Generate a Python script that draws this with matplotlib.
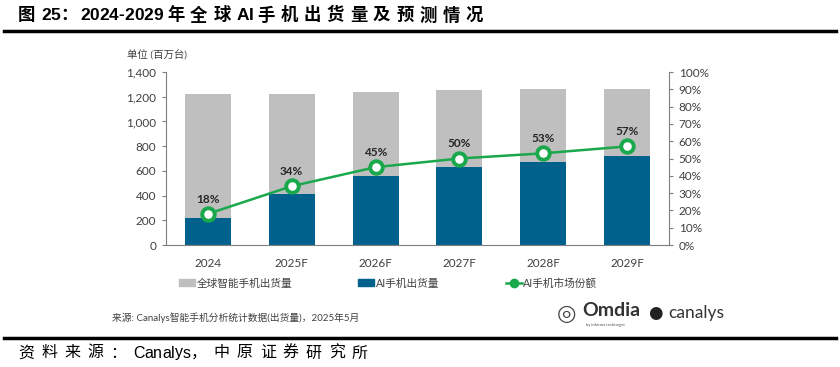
import numpy as np
import matplotlib.pyplot as plt
from matplotlib.patches import Patch
from matplotlib.lines import Line2D

plt.rcParams['font.family'] = ['Lato', 'Noto Sans CJK SC', 'DejaVu Sans']

years = ['2024', '2025F', '2026F', '2027F', '2028F', '2029F']
total_ship = [1220, 1220, 1238, 1255, 1265, 1265]
ai_ship = [220, 415, 557, 628, 670, 721]
ai_share = [0.18, 0.34, 0.45, 0.50, 0.53, 0.57]

gray = '#BFBFBF'
blue = '#00628C'
green = '#1AA84C'
axis_c = '#7F7F7F'
txt_c = '#404040'

W, H = 840, 367
fig = plt.figure(figsize=(8.4, 3.67), dpi=100)
renderer = fig.canvas.get_renderer()


def spaced_text(x0, y0, s, track, **kw):
    # draw a string char by char with extra spacing after CJK chars (pixels)
    xp = x0
    for ch in s:
        t = fig.text(xp / W, 1 - y0 / H, ch, va='center', **kw)
        w = t.get_window_extent(renderer).width
        if ch == ' ':
            w = kw.get('fontsize', 10) * 0.3
        xp += w + (track if ord(ch) > 0x2000 else 0)
    return xp


ax = fig.add_axes([0.1976, 0.3324, 0.5988, 0.4714])
x = np.arange(len(years))

ax.bar(x, total_ship, width=0.55, color=gray, zorder=1)
ax.bar(x, ai_ship, width=0.55, color=blue, zorder=2)
ax.set_xlim(-0.5, 5.5)
ax.set_ylim(0, 1400)
ax.set_yticks(np.arange(0, 1401, 200))
ax.set_yticklabels(['{:,}'.format(v) for v in range(0, 1401, 200)])
ax.set_xticks(x)
ax.set_xticklabels(years)
ax.tick_params(axis='y', length=3, color=axis_c, labelsize=8.5, labelcolor=txt_c, pad=4)
ax.tick_params(axis='x', length=0, labelsize=8.5, labelcolor=txt_c, pad=9)
for s in ['top', 'right']:
    ax.spines[s].set_visible(False)
ax.spines['left'].set_color(axis_c)
ax.spines['bottom'].set_color(axis_c)

ax2 = ax.twinx()
ax2.plot(x, ai_share, color=green, lw=1.8, marker='o', ms=9, mfc='white',
         mec=green, mew=2.8, zorder=5)
for xi, v in zip(x, ai_share):
    ax2.annotate('{:.0f}%'.format(v * 100), (xi, v), xytext=(0, 6.5),
                 textcoords='offset points', ha='center', va='bottom',
                 fontsize=8.5, fontweight='bold', color='#262626')
ax2.set_ylim(0, 1.0)
ax2.set_yticks(np.arange(0, 1.01, 0.1))
ax2.set_yticklabels(['{:.0f}%'.format(v * 100) for v in np.arange(0, 1.01, 0.1)])
ax2.tick_params(axis='y', length=3, color=axis_c, labelsize=8.5, labelcolor=txt_c, pad=4)
for s in ['top', 'left', 'bottom']:
    ax2.spines[s].set_visible(False)
ax2.spines['right'].set_color(axis_c)

fig.text(127 / W, 1 - 54 / H, '单位 (百万台)', fontsize=7.5, color=txt_c, va='center')

handles = [Patch(color=gray), Patch(color=blue),
           Line2D([], [], color=green, lw=1.8, marker='o', ms=6, mfc=green, mec=green)]
labels = ['全球智能手机出货量', 'AI手机出货量', 'AI手机市场份额']
fig.legend(handles, labels, loc='center left', bbox_to_anchor=(169 / W, 1 - 283 / H),
           ncol=3, frameon=False, fontsize=7.7, handlelength=1.5, handleheight=0.6,
           handletextpad=0.15, columnspacing=6.2, labelcolor=txt_c)

fig.text(112 / W, 1 - 318 / H, '来源: Canalys智能手机分析统计数据(出货量)，2025年5月',
         fontsize=7, color=txt_c, va='center')

# logos as text
fig.text(557 / W, 1 - 314 / H, '◎', fontsize=16, color='#444444', va='center',
         family=['DejaVu Sans'])
fig.text(582 / W, 1 - 311 / H, 'Omdia', fontsize=14, fontweight='bold', color='#333333',
         va='center')
fig.text(586 / W, 1 - 325 / H, 'by informa techtarget', fontsize=3, color='#555555', va='center')
fig.text(648 / W, 1 - 313 / H, '●', fontsize=12, color='#222222', va='center',
         family=['DejaVu Sans'])
fig.text(668 / W, 1 - 313 / H, 'canalys', fontsize=12.5, color='#333333', va='center')

# report frame
spaced_text(18, 15, '图 25：2024-2029 年 全 球 AI 手 机 出 货 量 及 预 测 情 况', 2.0,
            fontsize=12.5, fontweight='bold', family=['Liberation Sans', 'Noto Sans CJK SC'])
fig.add_artist(Line2D([4 / W, 836 / W], [1 - 31 / H] * 2, color='black', lw=2.5))
fig.add_artist(Line2D([4 / W, 836 / W], [1 - 338 / H] * 2, color='black', lw=2.5))
spaced_text(18, 353, '资料来源：Canalys，中原证券研究所', 7.0,
            fontsize=11.5, family=['Liberation Sans', 'Noto Sans CJK SC'])

fig.savefig('out.png', dpi=100)
